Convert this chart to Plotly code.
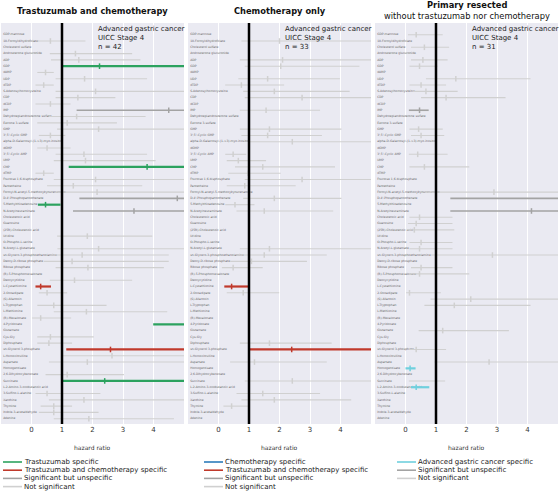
import plotly.graph_objects as go
from plotly.subplots import make_subplots

metabolites = [
    "GDP-mannose", "10-Formyldihydrofolate", "Cholesterol sulfate", "Androsterone glucuronide",
    "ADP", "GDP", "dAMP", "UDP", "dTDP", "S-Adenosylhomocysteine", "CDP", "dCDP", "IMP",
    "Dehydroepiandrosterone sulfate", "Estrone 3-sulfate", "GMP", "3',5'-Cyclic GMP",
    "alpha-D-Galactosyl-(1->3)-myo-inositol", "dGMP", "3',5'-Cyclic AMP", "UMP", "CMP", "dTMP",
    "Fructose 1,6-bisphosphate", "Pantetheine", "Formyl-N-acetyl-5-methoxykynurenamine",
    "D-4'-Phosphopantothenate", "5-Methylthioadenosine", "N-Acetylneuraminate",
    "Cholestenoic acid", "Guanosine", "(25R)-Cholestenoic acid", "Uridine", "O-Phospho-L-serine",
    "N-Acetyl-L-glutamate", "sn-Glycero-3-phosphoethanolamine", "Deoxy-D-ribose phosphate",
    "Ribose phosphate", "(R)-5-Phosphomevalonate", "Deoxycytidine", "L-Cystathionine",
    "2-Oxoadipate", "(S)-Allantoin", "L-Tryptophan", "L-Methionine", "(R)-Mevalonate",
    "4-Pyridoxate", "Glutamate", "Cys-Gly", "Diphosphate", "sn-Glycerol 3-phosphate",
    "L-Homocitrulline", "Aspartate", "Homogentisate", "2,6-Dihydroxybenzoate", "Succinate",
    "L-2-Amino-3-oxobutanoic acid", "3-Sulfino-L-alanine", "Xanthine", "Thymine",
    "Indole-3-acetaldehyde", "Adenine",
]

N = None
# ---- Panel 1: Trastuzumab and chemotherapy (n = 42) ----
tc_est = [N, 0.62, N, 1.44, 1.55, 2.23, 0.46, 1.74, 0.40, 2.10, 1.52, 0.62, 4.50, 1.48, 1.17, 2.20,
          0.62, N, 0.51, 1.72, 1.77, 3.79, 0.40, 2.10, 1.37, 2.15, 4.78, 0.46, 3.36, N, N, N, 1.83, N,
          2.20, 1.66, 1.33, 1.85, N, 1.41, 0.30, 0.51, N, 0.73, 1.80, 0.30, 5.60, N, 0.62, 0.57,
          2.59, 2.64, 1.83, N, 1.17, 2.40, N, 0.51, 1.72, 0.73, 0.73, 1.88]
tc_lo = [N, 0.19, N, 0.60, 0.64, 1.00, 0.19, 0.79, 0.13, 0.79, 0.79, 0.13, 1.48, 0.57, 0.19, 0.84,
         0.24, N, 0.19, 0.79, 0.73, 1.22, 0.13, 0.73, 0.51, 0.79, 1.57, 0.21, 1.36, N, N, N, 0.84, N,
         0.85, 0.62, 0.40, 0.79, N, 0.60, 0.13, 0.24, N, 0.19, 0.73, 0.02, 3.99, N, 0.19, 0.19,
         1.14, 1.00, 0.57, N, 0.46, 1.00, N, 0.13, 0.57, 0.30, 0.24, 0.73]
tc_hi = [N, 1.77, N, 3.30, 3.57, 6.00, 0.73, 3.79, 0.73, 6.00, 2.75, 1.28, 6.00, 3.74, 2.80, 6.00,
         1.11, N, 1.28, 3.79, 4.07, 6.00, 0.73, 6.00, 3.63, 6.00, 6.00, 0.95, 6.00, N, N, N, 3.96, N,
         6.00, 4.50, 4.50, 4.34, N, 3.30, 0.64, 1.17, N, 2.46, 4.45, 1.30, 8.00, N, 2.04, 1.33,
         6.00, 6.00, 6.00, N, 3.03, 6.00, N, 2.26, 6.00, 1.33, 2.20, 4.67]
tc_cls = ["ns"] * 62
for i in [6, 22, 28, 47, 56]:
    tc_cls[i - 1] = "spec1"
for i in [41, 51]:
    tc_cls[i - 1] = "spec2"
for i in [13, 27, 29]:
    tc_cls[i - 1] = "sig"

# ---- Panel 2: Chemotherapy only (n = 33) ----
ch_est = [N, 2.00, N, N, 2.10, 2.04, N, 1.61, 0.75, 1.83, 2.74, N, 1.56, N, N, 1.67,
          1.61, 2.42, N, 0.48, 0.65, 1.45, 0.97, 2.74, 0.86, N, 1.83, 0.54, 1.50, N, N, N, N, N,
          1.67, 1.50, 1.08, 0.48, N, N, 0.43, 0.81, N, N, N, N, N, N, N, 1.67,
          2.40, N, 1.18, N, N, 2.42, N, 1.45, 1.83, 0.43, N, N]
ch_lo = [N, 0.75, N, N, 0.70, 0.86, N, 0.65, 0.22, 0.81, 0.86, N, 0.70, N, N, 0.70,
         0.75, 1.02, N, 0.22, 0.27, 0.54, 0.32, 0.86, 0.27, N, 0.81, 0.22, 0.59, N, N, N, N, N,
         0.70, 0.59, 0.38, 0.11, N, N, 0.19, 0.27, N, N, N, N, N, N, N, 0.70,
         1.00, N, 0.38, N, N, 0.86, N, 0.59, 0.75, 0.16, N, N]
ch_hi = [N, 6.00, N, N, 6.00, 4.62, N, 3.98, 2.15, 4.30, 6.00, N, 3.33, N, N, 4.03,
         3.39, 6.00, N, 0.91, 1.56, 3.82, 2.04, 6.00, 2.53, N, 4.03, 1.18, 3.76, N, N, N, N, N,
         6.00, 3.55, 2.90, 1.45, N, N, 0.97, 1.99, N, N, N, N, N, N, N, 3.71,
         6.00, N, 3.55, N, N, 6.00, N, 3.33, 4.35, 0.97, N, N]
ch_cls = ["ns"] * 62
for i in [41, 51]:
    ch_cls[i - 1] = "spec2"

# ---- Panel 3: Primary resected (n = 31) ----
pr_est = [0.35, N, 0.62, N, 0.57, 0.46, N, 1.65, 0.51, 0.67, 1.33, N, 0.46, N, N, 0.43,
          0.51, N, N, 0.40, N, 0.62, N, N, N, 2.90, 5.50, N, 4.13, 0.46, 0.35, 0.29, N, 0.51,
          0.46, 2.85, N, 0.51, 0.46, N, N, 0.13, 2.14, 1.60, N, N, N, 1.22, N, N,
          0.35, N, 2.74, 0.15, N, 1.00, 0.35, N, N, N, N, N]
pr_lo = [0.08, N, 0.18, N, 0.18, 0.13, N, 0.67, 0.13, 0.24, 0.51, N, 0.11, N, N, 0.13,
         0.18, N, N, 0.11, N, 0.13, N, N, N, 0.65, 1.47, N, 1.47, 0.13, 0.08, 0.04, N, 0.13,
         0.13, 0.84, N, 0.18, 0.11, N, N, 0.02, 0.82, 0.62, N, N, N, 0.43, N, N,
         0.11, N, 0.95, 0.00, N, 0.11, 0.18, N, N, N, N, N]
pr_hi = [1.22, N, 1.43, N, 1.38, 1.05, N, 4.10, 1.33, 1.71, 3.28, N, 0.76, N, N, 1.22,
         1.27, N, N, 1.38, N, 2.09, N, N, N, 6.00, 6.00, N, 6.00, 1.54, 1.54, 1.60, N, 1.54,
         1.54, 6.00, N, 1.54, 2.09, N, N, 1.16, 6.00, 4.10, N, N, N, 3.39, N, N,
         1.33, N, 6.00, 0.33, N, 1.30, 0.78, N, N, N, N, N]
pr_cls = ["ns"] * 62
for i in [54, 57]:
    pr_cls[i - 1] = "spec1"
for i in [13, 27, 29]:
    pr_cls[i - 1] = "sig"

panel_titles = ["<b>Trastuzumab and chemotherapy</b>", "<b>Chemotherapy only</b>",
                "<b>Primary resected</b><br>without trastuzumab nor chemotherapy"]
panel_n = [42, 33, 31]
x_ticks = [0, 1, 2, 3, 4]

GREEN = "#2ca25f"
RED = "#c0392b"
BLUE = "#2b7bba"
CYAN = "#6fd0de"
SIG = "#a3a3a3"
NS = "#d0d0d0"

panel_colors = [
    {"spec1": GREEN, "spec2": RED, "sig": SIG, "ns": NS},
    {"spec1": BLUE, "spec2": RED, "sig": SIG, "ns": NS},
    {"spec1": CYAN, "spec2": RED, "sig": SIG, "ns": NS},
]
widths = {"spec1": 2.2, "spec2": 2.2, "sig": 1.6, "ns": 1.1}
legend_labels = [
    [("Trastuzumab specific", GREEN), ("Trastuzumab and chemotherapy specific", RED),
     ("Significant but unspecific", SIG), ("Not significant", NS)],
    [("Chemotherapy specific", BLUE), ("Trastuzumab and chemotherapy specific", RED),
     ("Significant but unspecific", SIG), ("Not significant", NS)],
    [("Advanced gastric cancer specific", CYAN), ("Significant but unspecific", SIG),
     ("Not significant", NS)],
]

W, H = 560, 493
L, R, T, B = 1, 2, 23, 69
PW = W - L - R
PH = H - T - B


def px2x(px):
    return (px - L) / PW


def py2y(py):
    return (H - B - py) / PH


fig = make_subplots(rows=1, cols=3, horizontal_spacing=4 / PW)

panels = [(tc_est, tc_lo, tc_hi, tc_cls), (ch_est, ch_lo, ch_hi, ch_cls), (pr_est, pr_lo, pr_hi, pr_cls)]
FONT = "DejaVu Sans"

for p, (est, lo, hi, cls) in enumerate(panels):
    col = p + 1
    # row labels
    fig.add_trace(go.Scatter(x=[-0.93] * len(metabolites), y=metabolites, mode="text",
                             text=metabolites, textposition="middle right",
                             textfont=dict(size=3, color="#666", family=FONT),
                             showlegend=False, hoverinfo="skip"), row=1, col=col)
    for c in ["ns", "sig", "spec1", "spec2"]:
        xs, ys, ex, ey = [], [], [], []
        for i, name in enumerate(metabolites):
            if cls[i] != c or lo[i] is None:
                continue
            xs += [lo[i], hi[i], None]
            ys += [name, name, None]
            ex.append(est[i])
            ey.append(name)
        if not ex:
            continue
        color = panel_colors[p][c]
        fig.add_trace(go.Scatter(x=xs, y=ys, mode="lines",
                                 line=dict(color=color, width=widths[c]),
                                 showlegend=False, hoverinfo="skip"), row=1, col=col)
        fig.add_trace(go.Scatter(x=ex, y=ey, mode="markers",
                                 marker=dict(symbol="line-ns-open", size=4, color=color,
                                             line=dict(color=color, width=1.5)),
                                 showlegend=False, hoverinfo="skip"), row=1, col=col)
    # reference line at hazard ratio 1
    fig.add_shape(type="line", x0=1, x1=1, y0=0, y1=1, xref=f"x{'' if col == 1 else col}",
                  yref=f"y{'' if col == 1 else col} domain",
                  line=dict(color="black", width=2.5))
    fig.update_xaxes(range=[-1, 5], tickvals=x_ticks, showgrid=True, gridcolor="white",
                     gridwidth=1.2, zeroline=False, showline=False, ticks="",
                     tickfont=dict(size=7, color="#333", family=FONT), row=1, col=col)
    fig.update_yaxes(type="category", categoryorder="array", categoryarray=metabolites,
                     range=[61.84, -1.86], showticklabels=False, showgrid=False,
                     zeroline=False, ticks="", row=1, col=col)

# annotations per panel
domains = [(0, 183), (187, 370), (374, 557)]
for p in range(3):
    x0p, x1p = domains[p]
    cx = px2x(L + (x0p + x1p) / 2)
    if p < 2:
        fig.add_annotation(text=panel_titles[p], x=cx, y=py2y(11), xref="paper", yref="paper",
                           showarrow=False, font=dict(size=8.3, color="#111", family=FONT),
                           xanchor="center", yanchor="middle")
    else:
        fig.add_annotation(text="<b>Primary resected</b>", x=cx, y=py2y(5), xref="paper",
                           yref="paper", showarrow=False,
                           font=dict(size=8.3, color="#111", family=FONT),
                           xanchor="center", yanchor="middle")
        fig.add_annotation(text="without trastuzumab nor chemotherapy", x=cx, y=py2y(15.5),
                           xref="paper", yref="paper", showarrow=False,
                           font=dict(size=8.3, color="#111", family=FONT),
                           xanchor="center", yanchor="middle")
    xr = "x" if p == 0 else f"x{p + 1}"
    fig.add_annotation(text=f"Advanced gastric cancer<br>UICC Stage 4<br>n = {panel_n[p]}",
                       x=2.1, y=1, xref=xr, yref="paper", showarrow=False, align="left",
                       xanchor="left", yanchor="top",
                       font=dict(size=7, color="#222", family=FONT))
    fig.add_annotation(text="hazard ratio", x=cx, y=py2y(447), xref="paper", yref="paper",
                       showarrow=False, font=dict(size=6, color="#333", family=FONT),
                       xanchor="center", yanchor="middle")
    # legend
    lx = [3, 204, 397][p]
    for k, (lab, colr) in enumerate(legend_labels[p]):
        yy = 462 + k * 8.2
        fig.add_shape(type="line", xref="paper", yref="paper",
                      x0=px2x(lx), x1=px2x(lx + 19), y0=py2y(yy), y1=py2y(yy),
                      line=dict(color=colr, width=1.6))
        fig.add_annotation(text=lab, x=px2x(lx + 19), y=py2y(yy), xref="paper", yref="paper",
                           showarrow=False, xanchor="left", yanchor="middle",
                           font=dict(size=7, color="#222", family=FONT))

fig.update_layout(width=W, height=H, margin=dict(l=L, r=R, t=T, b=B),
                  paper_bgcolor="white", plot_bgcolor="#eaeaf2", showlegend=False,
                  font=dict(family=FONT))

fig.write_html("out.html", config={"displayModeBar": False},
               post_script="document.body.style.margin='0';document.body.style.overflow='hidden';")
